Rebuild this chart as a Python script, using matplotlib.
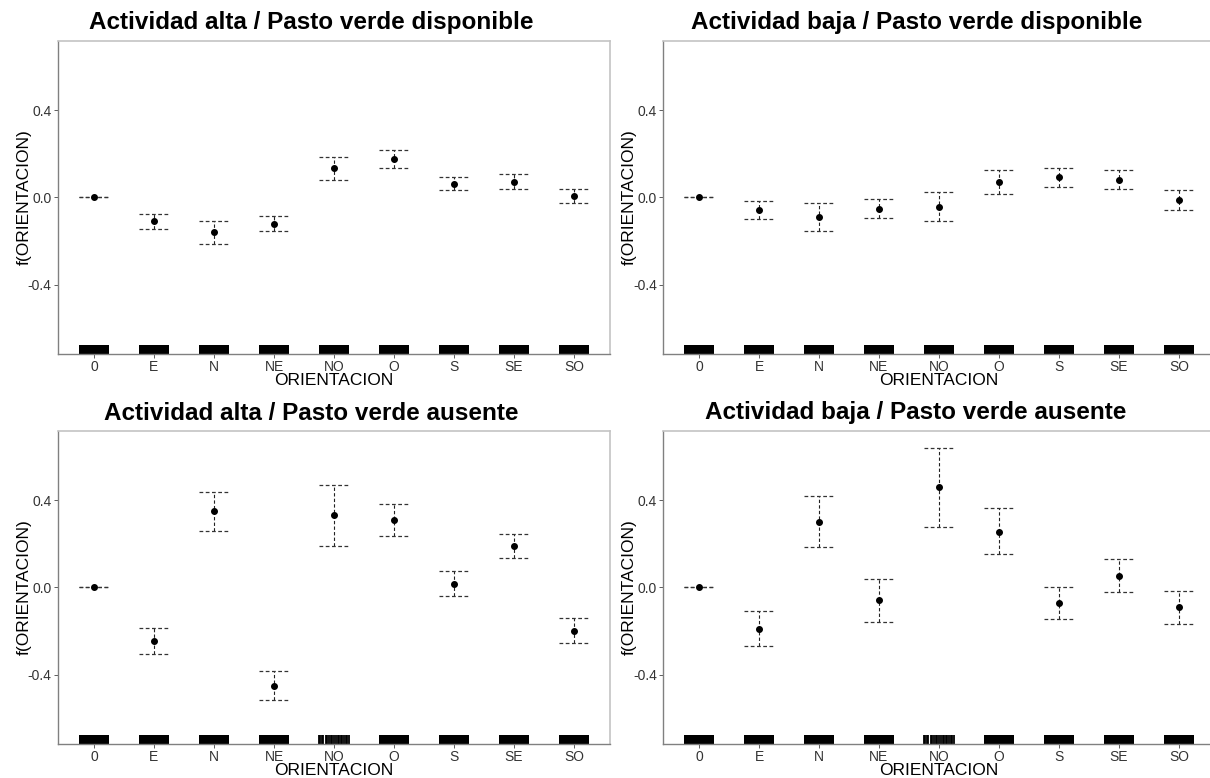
import numpy as np
import matplotlib
matplotlib.use("Agg")
import matplotlib.pyplot as plt

plt.rcParams['font.family'] = ['Liberation Sans', 'DejaVu Sans']

categories = ["0", "E", "N", "NE", "NO", "O", "S", "SE", "SO"]

titles = [
    "Actividad alta / Pasto verde disponible",
    "Actividad baja / Pasto verde disponible",
    "Actividad alta / Pasto verde ausente",
    "Actividad baja / Pasto verde ausente",
]

# alta / disponible
alta_disp_fit = [0.0, -0.108, -0.160, -0.121, 0.133, 0.177, 0.063, 0.070, 0.005]
alta_disp_upr = [0.0, -0.078, -0.110, -0.087, 0.185, 0.215, 0.092, 0.105, 0.037]
alta_disp_lwr = [0.0, -0.144, -0.212, -0.153, 0.082, 0.136, 0.032, 0.040, -0.026]

# baja / disponible
baja_disp_fit = [0.0, -0.056, -0.089, -0.052, -0.044, 0.070, 0.092, 0.081, -0.014]
baja_disp_upr = [0.0, -0.017, -0.027, -0.009, 0.023, 0.124, 0.133, 0.124, 0.032]
baja_disp_lwr = [0.0, -0.101, -0.153, -0.095, -0.108, 0.015, 0.047, 0.040, -0.056]

# alta / ausente
alta_aus_fit = [0.0, -0.246, 0.348, -0.450, 0.330, 0.311, 0.015, 0.191, -0.198]
alta_aus_upr = [0.0, -0.188, 0.437, -0.385, 0.469, 0.382, 0.073, 0.247, -0.142]
alta_aus_lwr = [0.0, -0.305, 0.260, -0.518, 0.189, 0.237, -0.041, 0.136, -0.256]

# baja / ausente
baja_aus_fit = [0.0, -0.189, 0.302, -0.060, 0.460, 0.256, -0.073, 0.052, -0.092]
baja_aus_upr = [0.0, -0.110, 0.421, 0.037, 0.637, 0.362, 0.0, 0.128, -0.015]
baja_aus_lwr = [0.0, -0.269, 0.183, -0.157, 0.279, 0.151, -0.144, -0.023, -0.168]

# rug: categories with sparse observations (offsets inside the jitter band)
sparse_rug = {2: ["NO"], 3: ["NO"]}
no_rug_offsets = [-0.245, -0.23, -0.2, -0.18, -0.14, -0.12, -0.09, -0.05, -0.03,
                  0.0, 0.03, 0.06, 0.08, 0.11, 0.14, 0.17, 0.2, 0.22, 0.245]

panels = [
    (alta_disp_fit, alta_disp_upr, alta_disp_lwr),
    (baja_disp_fit, baja_disp_upr, baja_disp_lwr),
    (alta_aus_fit, alta_aus_upr, alta_aus_lwr),
    (baja_aus_fit, baja_aus_upr, baja_aus_lwr),
]

W, H = 1210, 778
fig = plt.figure(figsize=(W / 100, H / 100), dpi=100)

# axes boxes in pixels: left, top
boxes = [(58, 41), (663, 41), (58, 431), (663, 431)]
ax_w, ax_h = 552, 313
title_x = [311, 917, 311, 916]

x = np.arange(len(categories))
cap = 0.25

for i, (fit, upr, lwr) in enumerate(panels):
    l, t = boxes[i]
    ax = fig.add_axes([l / W, 1 - (t + ax_h) / H, ax_w / W, ax_h / H])

    # rug
    for j, c in enumerate(categories):
        if c in sparse_rug.get(i, []):
            ax.vlines([j + o for o in no_rug_offsets], 0, 0.03, color="black",
                      linewidth=1.3, transform=ax.get_xaxis_transform())
        else:
            ax.broken_barh([(j - 0.25, 0.5)], (0, 0.03), facecolors="black",
                           transform=ax.get_xaxis_transform())

    # intervals
    ax.vlines(x, lwr, upr, colors="#222222", linestyles=(0, (3, 2)), linewidth=0.8)
    ax.hlines(upr, x - cap, x + cap, colors="#333333", linestyles=(0, (3, 2)), linewidth=0.9)
    ax.hlines(lwr, x - cap, x + cap, colors="#333333", linestyles=(0, (3, 2)), linewidth=0.9)
    ax.plot(x, fit, "o", color="black", markersize=4)

    ax.set_xlim(-0.6, len(categories) - 0.4)
    ax.set_ylim(-0.718, 0.717)
    ax.set_xticks(x)
    ax.set_xticklabels(categories)
    ax.set_yticks([-0.4, 0.0, 0.4])
    ax.set_yticklabels(["-0.4", "0.0", "0.4"])
    ax.tick_params(axis="both", labelsize=10, colors="#444444", length=3,
                   width=0.6, pad=1.5)
    ax.tick_params(axis="both", labelcolor="#333333")
    ax.set_xlabel("ORIENTACION", fontsize=12.5)
    ax.xaxis.set_label_coords(0.5, -0.06)
    ax.set_ylabel("f(ORIENTACION)", fontsize=12.5, va="center")
    ax.yaxis.set_label_coords(-0.062, 0.5)

    for side in ["top", "right"]:
        ax.spines[side].set_color("#c4c4c4")
        ax.spines[side].set_linewidth(1.2)
    for side in ["left", "bottom"]:
        ax.spines[side].set_color("#808080")
        ax.spines[side].set_linewidth(1.0)

    fig.text(title_x[i] / W, 1 - (t - 18) / H, titles[i], ha="center", va="center",
             fontsize=17.5, fontweight="bold")

fig.savefig("out.png", dpi=100)
